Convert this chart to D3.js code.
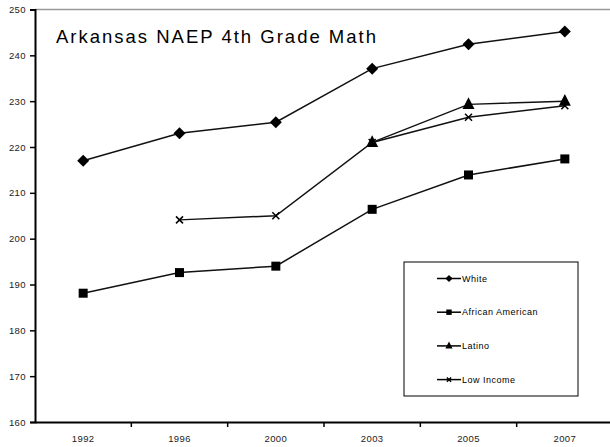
<!DOCTYPE html>
<html><head><meta charset="utf-8">
<script src="https://cdn.jsdelivr.net/npm/d3@7"></script>
<style>body{margin:0;background:#fff}svg{display:block}text{font-family:"Liberation Sans",Arial,sans-serif}</style>
</head><body><svg id="c" width="610" height="447"></svg>
<script>
const years = ["1992","1996","2000","2003","2005","2007"];
const white = [217.0, 223.0, 225.4, 237.1, 242.4, 245.2];
const africanAmerican = [188.1, 192.6, 194.0, 206.4, 213.9, 217.4];
const latino = [null, null, null, 221.0, 229.3, 230.0];
const lowIncome = [null, 204.1, 205.0, 221.0, 226.5, 229.0];
const yTicks = [160,170,180,190,200,210,220,230,240,250];
const seriesNames = ["White","African American","Latino","Low Income"];
const seriesMarkers = ["diamond","square","triangle","cross"];
const title = "Arkansas NAEP 4th Grade Math";

const series = [white, africanAmerican, latino, lowIncome].map((v,i)=>({name:seriesNames[i], marker:seriesMarkers[i], values:v}));

const svg = d3.select("#c");
const pL = 35, pR = 613, pT = 9.5, pB = 422;
const x = d3.scaleBand().domain(years).range([pL, pR]);
const y = d3.scaleLinear().domain([160,250]).range([pB, pT]);

// top border
svg.append("line").attr("x1",pL).attr("x2",610).attr("y1",pT).attr("y2",pT)
  .attr("stroke","#999").attr("stroke-width",1.5);

// y axis
const ya = svg.append("g").attr("transform",`translate(${pL},0)`)
  .call(d3.axisLeft(y).tickValues(yTicks).tickSize(5).tickPadding(4));
ya.select(".domain").attr("stroke","#000").attr("stroke-width",2);
ya.selectAll(".tick line").attr("stroke","#000").attr("stroke-width",1.5);
ya.selectAll("text").attr("font-size",9.5).attr("letter-spacing",0.4).attr("fill","#222").style("font-family","'Liberation Sans',Arial,sans-serif");

// x axis
const xa = svg.append("g").attr("transform",`translate(0,${pB})`)
  .call(d3.axisBottom(x).tickSize(0).tickPadding(13));
xa.select(".domain").attr("stroke","#000").attr("stroke-width",2);
xa.selectAll("text").attr("font-size",9.5).attr("letter-spacing",0.4).attr("fill","#222").style("font-family","'Liberation Sans',Arial,sans-serif");
// x ticks at band boundaries
xa.selectAll(".bt").data(years.slice(1)).enter().append("line")
  .attr("x1",d=>x(d)).attr("x2",d=>x(d)).attr("y1",0).attr("y2",5)
  .attr("stroke","#000").attr("stroke-width",1.5);

function marker(g, type, cx, cy, s) {
  s = s || 1;
  if (type==="diamond") {
    const r = 6*s;
    g.append("path").attr("d",`M${cx},${cy-r}L${cx+r},${cy}L${cx},${cy+r}L${cx-r},${cy}Z`).attr("fill","#000");
  } else if (type==="square") {
    const r = 4.5*s;
    g.append("rect").attr("x",cx-r).attr("y",cy-r).attr("width",2*r).attr("height",2*r).attr("fill","#000");
  } else if (type==="triangle") {
    const r = 6*s;
    g.append("path").attr("d",`M${cx},${cy-r*1.2}L${cx+r},${cy+r*0.75}L${cx-r},${cy+r*0.75}Z`).attr("fill","#000");
  } else {
    const r = 3.5*s;
    g.append("path").attr("d",`M${cx-r},${cy-r}L${cx+r},${cy+r}M${cx-r},${cy+r}L${cx+r},${cy-r}`).attr("stroke","#000").attr("stroke-width",1.5);
  }
}

const line = d3.line().defined(d=>d.v!==null).x(d=>x(d.yr)+x.bandwidth()/2).y(d=>y(d.v));
series.forEach(s=>{
  const pts = years.map((yr,i)=>({yr, v:s.values[i]}));
  const g = svg.append("g");
  g.append("path").attr("d",line(pts)).attr("fill","none").attr("stroke","#111").attr("stroke-width",1.5);
  pts.filter(p=>p.v!==null).forEach(p=>marker(g, s.marker, x(p.yr)+x.bandwidth()/2, y(p.v)));
});

// title
svg.append("text").attr("x",56).attr("y",43).attr("font-size",18.5).attr("letter-spacing",2).attr("fill","#000").text(title);

// legend
const lg = svg.append("g");
lg.append("rect").attr("x",404).attr("y",262).attr("width",174).attr("height",134)
  .attr("fill","#fff").attr("stroke","#000").attr("stroke-width",1);
series.forEach((s,i)=>{
  const ly = 278.5 + i*33.7;
  lg.append("line").attr("x1",437).attr("x2",461).attr("y1",ly).attr("y2",ly).attr("stroke","#000").attr("stroke-width",1.5);
  marker(lg, s.marker, 449, ly, 0.6);
  lg.append("text").attr("x",462).attr("y",ly+3.2).attr("font-size",9).attr("letter-spacing",0.5).attr("fill","#000").text(s.name);
});
</script></body></html>
